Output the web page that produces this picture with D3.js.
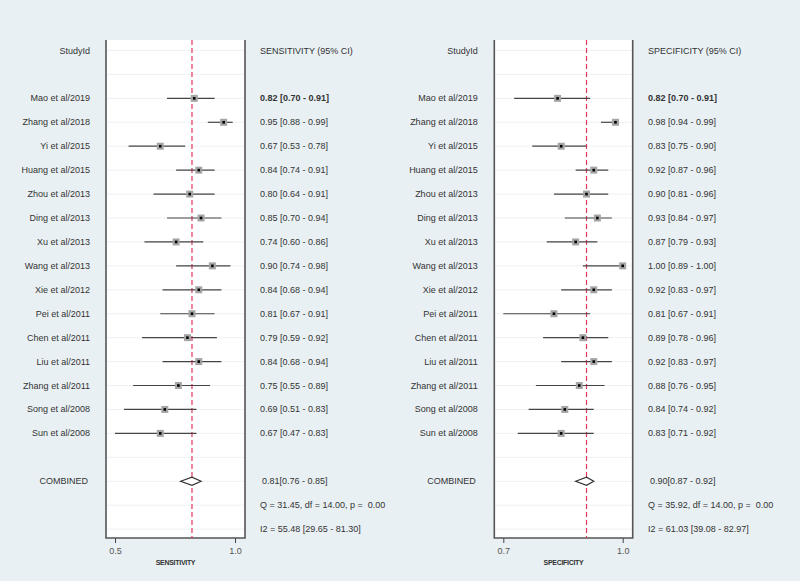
<!DOCTYPE html>
<html><head><meta charset="utf-8">
<script src="https://cdn.jsdelivr.net/npm/d3@7"></script>
<style>
html,body{margin:0;padding:0;background:#e9f0f3;}
svg{display:block;font-family:"Liberation Sans",Arial,sans-serif;}
</style></head>
<body>
<svg id="c" width="800" height="581"></svg>
<script>
const studies = ["Mao et al/2019","Zhang et al/2018","Yi et al/2015","Huang et al/2015","Zhou et al/2013","Ding et al/2013","Xu et al/2013","Wang et al/2013","Xie et al/2012","Pei et al/2011","Chen et al/2011","Liu et al/2011","Zhang et al/2011","Song et al/2008","Sun et al/2008"];
const sens   = [0.82,0.95,0.67,0.84,0.80,0.85,0.74,0.90,0.84,0.81,0.79,0.84,0.75,0.69,0.67];
const sensLo = [0.70,0.88,0.53,0.74,0.64,0.70,0.60,0.74,0.68,0.67,0.59,0.68,0.55,0.51,0.47];
const sensHi = [0.91,0.99,0.78,0.91,0.91,0.94,0.86,0.98,0.94,0.91,0.92,0.94,0.89,0.83,0.83];
const spec   = [0.82,0.98,0.83,0.92,0.90,0.93,0.87,1.00,0.92,0.81,0.89,0.92,0.88,0.84,0.83];
const specLo = [0.70,0.94,0.75,0.87,0.81,0.84,0.79,0.89,0.83,0.67,0.78,0.83,0.76,0.74,0.71];
const specHi = [0.91,0.99,0.90,0.96,0.96,0.97,0.93,1.00,0.97,0.91,0.96,0.97,0.95,0.92,0.92];
const combinedSens = [0.81,0.76,0.85];
const combinedSpec = [0.90,0.87,0.92];
const sensTicks = [0.47,1.0], sensTickLabels = ["0.5","1.0"];
const specTicks = [0.67,1.0], specTickLabels = ["0.7","1.0"];
const sensStats = ["Q = 31.45, df = 14.00, p =  0.00","I2 = 55.48 [29.65 - 81.30]"];
const specStats = ["Q = 35.92, df = 14.00, p =  0.00","I2 = 61.03 [39.08 - 82.97]"];

const svg = d3.select("#c");
const rowY = i => 50.5 + i*23.93;
const f2 = d3.format(".2f");

function panel(o){
  const g = svg.append("g");
  const x = d3.scaleLinear().domain(o.ticks).range([o.x0, o.x1]);
  const bx0 = o.x0 - 9, bx1 = o.x1 + 10, by0 = 40, by1 = 538;
  g.append("rect").attr("x",bx0).attr("y",by0).attr("width",bx1-bx0).attr("height",by1-by0).attr("fill","#fff");
  // faint row lines
  for(let i=0;i<=20;i++){
    g.append("line").attr("x1",bx0).attr("x2",bx1).attr("y1",rowY(i)).attr("y2",rowY(i))
     .attr("stroke","#edf2f6").attr("stroke-width",1);
  }
  // borders
  g.append("path").attr("d",`M${bx0},${by0}V${by1}H${bx1}V${by0}`).attr("fill","none").attr("stroke","#555").attr("stroke-width",1.6);
  // axis
  const ax = g.append("g").attr("transform",`translate(0,${by1})`)
    .call(d3.axisBottom(x).tickValues(o.ticks).tickFormat((d,i)=>o.tickLabels[i]).tickSize(5).tickPadding(5));
  ax.select(".domain").remove();
  ax.selectAll("line").attr("stroke","#444");
  ax.selectAll("text").attr("font-size",9).attr("fill","#555").attr("font-family","Liberation Sans, Arial, sans-serif");
  g.append("text").attr("x",(bx0+bx1)/2).attr("y",565).attr("text-anchor","middle")
   .attr("font-size",7).attr("font-weight","bold").attr("fill","#333").attr("letter-spacing","-0.3").text(o.axisTitle);
  // headers
  g.append("text").attr("x",o.labX).attr("y",rowY(0)+3).attr("text-anchor","end").attr("font-size",9).attr("fill","#333").text("StudyId");
  g.append("text").attr("x",o.txtX).attr("y",rowY(0)+3).attr("font-size",9).attr("fill","#333").text(o.header);
  // reference line
  g.append("line").attr("x1",x(o.comb[0])).attr("x2",x(o.comb[0])).attr("y1",by0).attr("y2",by1)
   .attr("stroke","#e0365a").attr("stroke-width",1.2).attr("stroke-dasharray","5,3");
  // studies
  studies.forEach((s,i)=>{
    const y = rowY(i+2);
    g.append("text").attr("x",o.labX).attr("y",y+3).attr("text-anchor","end").attr("font-size",9).attr("fill","#333").text(s);
    g.append("line").attr("x1",x(o.lo[i])).attr("x2",x(o.hi[i])).attr("y1",y).attr("y2",y).attr("stroke","#444").attr("stroke-width",1.2);
    g.append("rect").attr("x",x(o.est[i])-3.5).attr("y",y-3.5).attr("width",7).attr("height",7).attr("fill","#a5a5a5");
    g.append("rect").attr("x",x(o.est[i])-1.3).attr("y",y-1.3).attr("width",2.6).attr("height",2.6).attr("fill","#000");
    g.append("text").attr("x",o.txtX).attr("y",y+3).attr("font-size",9).attr("fill","#333")
     .attr("font-weight", i===0?"bold":"normal")
     .text(`${f2(o.est[i])} [${f2(o.lo[i])} - ${f2(o.hi[i])}]`);
  });
  // combined
  const yc = rowY(18);
  g.append("text").attr("x",o.labX-2).attr("y",yc+3).attr("text-anchor","end").attr("font-size",9).attr("fill","#333").text("COMBINED");
  g.append("path").attr("d",`M${x(o.comb[1])},${yc}L${x(o.comb[0])},${yc-4}L${x(o.comb[2])},${yc}L${x(o.comb[0])},${yc+4}Z`)
   .attr("fill","#fff").attr("stroke","#333").attr("stroke-width",1.2);
  g.append("text").attr("x",o.txtX+2).attr("y",yc+3).attr("font-size",9).attr("fill","#333")
   .text(`${f2(o.comb[0])}[${f2(o.comb[1])} - ${f2(o.comb[2])}]`);
  o.stats.forEach((t,k)=>{
    g.append("text").attr("x",o.txtX).attr("y",rowY(19+k)+3).attr("font-size",9).attr("fill","#333").attr("xml:space","preserve").style("white-space","pre").text(t);
  });
}

panel({x0:115,x1:235,ticks:sensTicks,tickLabels:sensTickLabels,labX:90,txtX:260,
  header:"SENSITIVITY (95% CI)",axisTitle:"SENSITIVITY",est:sens,lo:sensLo,hi:sensHi,comb:combinedSens,stats:sensStats});
panel({x0:503.3,x1:622.7,ticks:specTicks,tickLabels:specTickLabels,labX:477.7,txtX:648,
  header:"SPECIFICITY (95% CI)",axisTitle:"SPECIFICITY",est:spec,lo:specLo,hi:specHi,comb:combinedSpec,stats:specStats});
</script>
</body></html>
